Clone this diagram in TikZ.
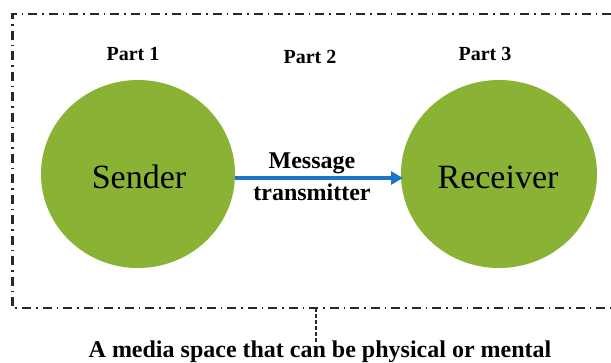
\documentclass[tikz,border=0pt]{standalone}
\usepackage{fontspec}
\setmainfont{Liberation Serif}
\usetikzlibrary{arrows.meta}
\definecolor{leafgreen}{RGB}{138,178,52}
\definecolor{linkblue}{RGB}{28,118,200}
\definecolor{framegray}{RGB}{40,40,40}
\tikzset{
  party/.style={fill=leafgreen},
  partlabel/.style={font=\bfseries\fontsize{20}{22}\selectfont},
  bodytext/.style={font=\fontsize{34}{38}\selectfont},
  boldtext/.style={font=\bfseries\fontsize{24}{28}\selectfont, align=center},
  frame/.style={draw=framegray, line width=2.2pt,
    dash pattern=on 9pt off 5pt on 1.5pt off 5pt},
  stem/.style={draw=framegray, line width=2.2pt, dash pattern=on 4pt off 2pt},
  link/.style={draw=linkblue, line width=3.2pt,
    -{Triangle[length=12pt,width=13pt]}}
}
\begin{document}
\begin{tikzpicture}[x=1pt,y=-1pt]
  \useasboundingbox (0,0) rectangle (611,362);

  % dash-dot frame of the media space, open on the right
  \coordinate (ftr) at (611,14);
  \coordinate (ftl) at (12.5,14);
  \coordinate (fbl) at (12.5,308);
  \coordinate (fbr) at (611,308);
  \draw[frame] (ftr) -- (ftl) -- (fbl) -- (fbr);

  % the two parties
  \fill[party] (138,174) ellipse [x radius=97, y radius=94];
  \fill[party] (499,174) ellipse [x radius=98, y radius=94];
  \node[bodytext] (sender) at (139,177) {Sender};
  \node[bodytext] (receiver) at (498,177) {Receiver};
  \coordinate (sendEdge) at (235,178);
  \coordinate (recvEdge) at (403,178);

  % part headings
  \node[partlabel] (p1) at (133,54) {Part 1};
  \node[partlabel] (p2) at (310,57) {Part 2};
  \node[partlabel] (p3) at (485,54) {Part 3};

  % message channel
  \draw[link] (sendEdge) -- (recvEdge);
  \node[boldtext] (msg) at (312,163) {Message};
  \node[boldtext] (trans) at (312,192) {transmitter};

  % caption with its dashed stem
  \coordinate (stemTop) at (316,308);
  \node[boldtext, anchor=base] (caption) at (320,357)
    {A media space that can be physical or mental};
  \draw[stem] (stemTop) -- (316,343);
\end{tikzpicture}
\end{document}
